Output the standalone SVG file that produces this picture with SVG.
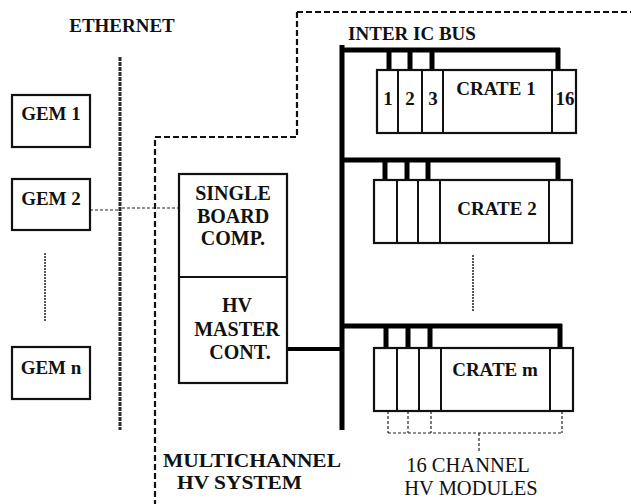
<svg xmlns="http://www.w3.org/2000/svg" width="631" height="504" viewBox="0 0 631 504">
<style>
.box{fill:#fff;stroke:#111;stroke-width:2.2}
.t{font-family:"Liberation Serif","Times New Roman",serif;font-weight:bold;font-size:19px;fill:#111}
.b20{font-size:20px}
.r{font-family:"Liberation Serif","Times New Roman",serif;font-size:20.5px;fill:#111}
.bus{fill:none;stroke:#000;stroke-width:5;stroke-linejoin:miter}
.drop{stroke:#000;stroke-width:5}
.dash{fill:none;stroke:#222;stroke-width:1.2;stroke-dasharray:3 2}
.div{stroke:#111;stroke-width:2}
</style>
<rect width="631" height="504" fill="#fff"/>
<text class="t" x="122" y="32" text-anchor="middle">ETHERNET</text>
<text class="t" x="412" y="40" text-anchor="middle">INTER IC BUS</text>
<path d="M297,12 L631,12 M297,12 L297,137 L155,137 L155,504" fill="none" stroke="#111" stroke-width="2.2" stroke-dasharray="6 3"/>
<g id="connectors">
<line x1="120" y1="57" x2="120" y2="430" stroke="#2a2a2a" stroke-width="3" stroke-dasharray="4 1"/>
<line x1="45" y1="253" x2="45" y2="322" stroke="#222" stroke-width="1.5" stroke-dasharray="2 1"/>
<line x1="473" y1="255" x2="473" y2="312" stroke="#222" stroke-width="1.5" stroke-dasharray="2 1"/>
<line class="dash" x1="90" y1="210" x2="118" y2="210"/>
<line class="dash" x1="122" y1="208" x2="179" y2="208"/>
<line x1="287" y1="349" x2="342" y2="349" stroke="#000" stroke-width="4"/>
<line x1="342" y1="45" x2="342" y2="430" stroke="#000" stroke-width="5"/>
<path class="bus" d="M342,50 L560,50"/>
<line class="drop" x1="389" y1="50" x2="389" y2="70"/>
<line class="drop" x1="410" y1="50" x2="410" y2="70"/>
<line class="drop" x1="432" y1="50" x2="432" y2="70"/>
<line class="drop" x1="558" y1="48" x2="558" y2="70"/>
<path class="bus" d="M342,160 L560,160"/>
<line class="drop" x1="385" y1="160" x2="385" y2="180"/>
<line class="drop" x1="407" y1="160" x2="407" y2="180"/>
<line class="drop" x1="428" y1="160" x2="428" y2="180"/>
<line class="drop" x1="558" y1="158" x2="558" y2="180"/>
<path class="bus" d="M342,326 L562,326"/>
<line class="drop" x1="386" y1="326" x2="386" y2="348"/>
<line class="drop" x1="408" y1="326" x2="408" y2="348"/>
<line class="drop" x1="430" y1="326" x2="430" y2="348"/>
<line class="drop" x1="560" y1="324" x2="560" y2="348"/>
<path class="dash" d="M388,411 V433 M408,411 V433 M431,411 V433 M562,411 V433 M388,433 H562 M479,433 V452"/>
</g>
<g id="gem1"><rect class="box" x="12" y="95" width="78" height="52"/><text class="t" x="51" y="120" text-anchor="middle">GEM 1</text></g>
<g id="gem2"><rect class="box" x="12" y="179" width="78" height="51"/><text class="t" x="51" y="205" text-anchor="middle">GEM 2</text></g>
<g id="gemn"><rect class="box" x="12" y="347" width="78" height="52"/><text class="t" x="51" y="374" text-anchor="middle">GEM n</text></g>
<g id="sbc"><rect class="box" x="179" y="174" width="108" height="209"/><line class="div" x1="179" y1="277" x2="287" y2="277"/>
<text class="t b20" x="233" y="200" text-anchor="middle">SINGLE</text>
<text class="t b20" x="233" y="223" text-anchor="middle">BOARD</text>
<text class="t b20" x="233" y="245" text-anchor="middle">COMP.</text>
<text class="t b20" x="237" y="312" text-anchor="middle">HV</text>
<text class="t b20" x="237" y="336" text-anchor="middle">MASTER</text>
<text class="t b20" x="240" y="359" text-anchor="middle">CONT.</text></g>
<g id="crate1"><rect class="box" x="377" y="70" width="199" height="63"/>
<path class="div" d="M398,70 V133 M422,70 V133 M443,70 V133 M552,70 V133"/>
<text class="t" x="388" y="105" text-anchor="middle">1</text>
<text class="t" x="410" y="105" text-anchor="middle">2</text>
<text class="t" x="433" y="105" text-anchor="middle">3</text>
<text class="t" x="496" y="95" text-anchor="middle">CRATE 1</text>
<text class="t" x="565" y="105" text-anchor="middle" font-size="17">16</text></g>
<g id="crate2"><rect class="box" x="374" y="180" width="198" height="63"/>
<path class="div" d="M397,180 V243 M418,180 V243 M440,180 V243 M549,180 V243"/>
<text class="t" x="497" y="215" text-anchor="middle">CRATE 2</text></g>
<g id="cratem"><rect class="box" x="374" y="348" width="199" height="63"/>
<path class="div" d="M397,348 V411 M419,348 V411 M441,348 V411 M550,348 V411"/>
<text class="t" x="495" y="376" text-anchor="middle">CRATE m</text></g>
<text class="t" x="163" y="467" font-size="21" textLength="178" lengthAdjust="spacingAndGlyphs">MULTICHANNEL</text>
<text class="t" x="177" y="489" font-size="20.5" textLength="125" lengthAdjust="spacingAndGlyphs">HV SYSTEM</text>
<text class="r" x="468" y="472" text-anchor="middle">16 CHANNEL</text>
<text class="r" x="471" y="495" text-anchor="middle">HV MODULES</text>
</svg>
